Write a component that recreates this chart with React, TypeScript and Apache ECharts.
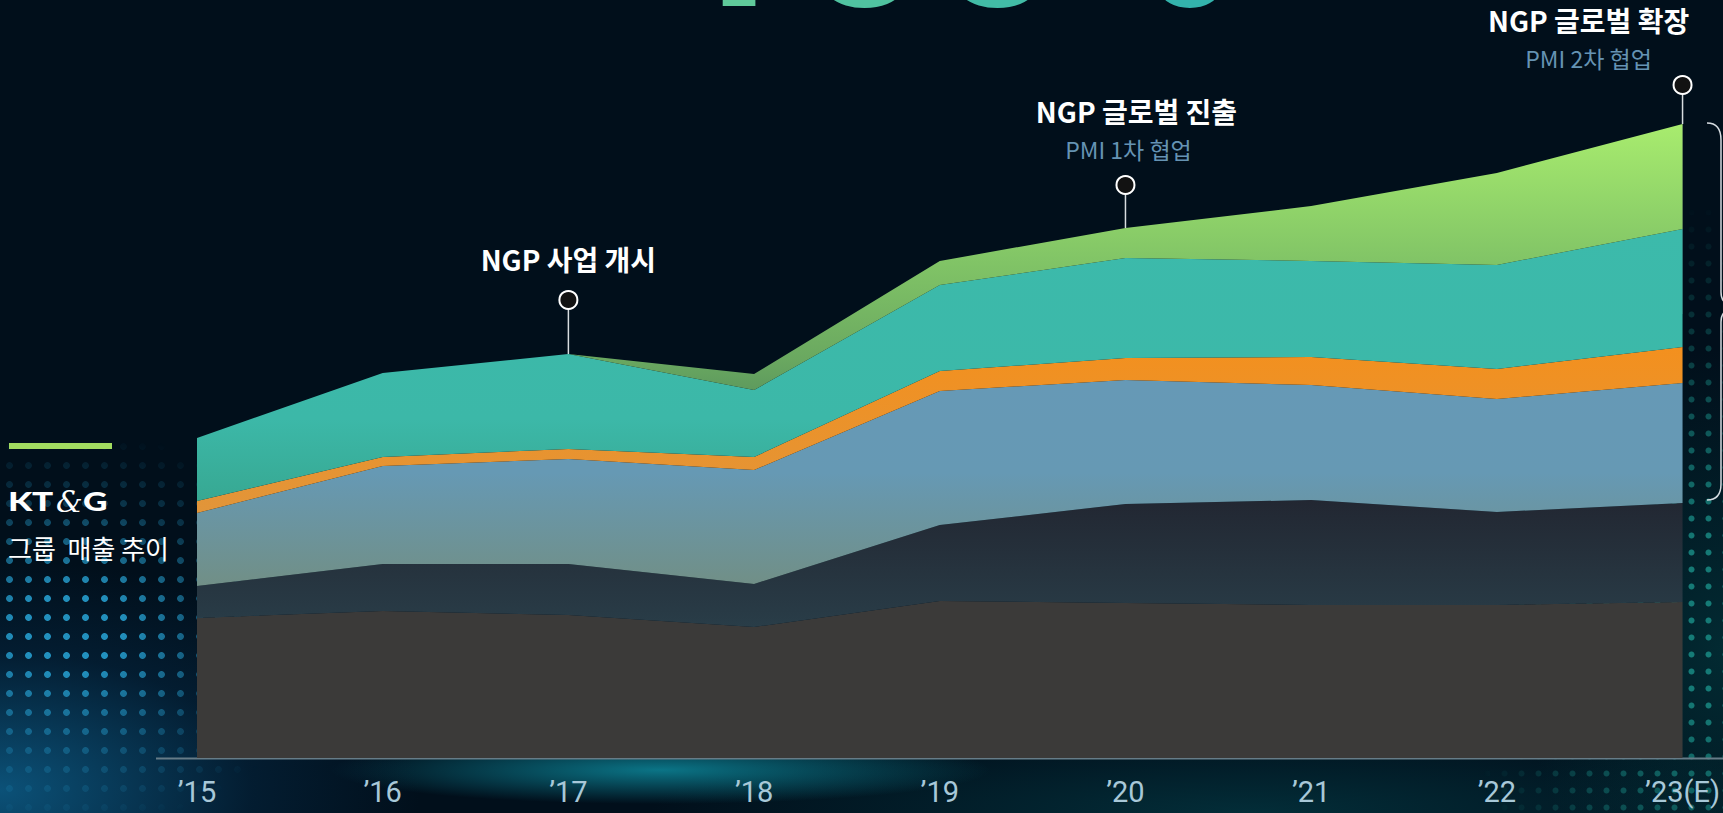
import React, { useEffect, useRef } from "react";
import * as echarts from "echarts";

const years = ["’15", "’16", "’17", "’18", "’19", "’20", "’21", "’22", "’23(E)"];
const baseTobacco = [14.0, 14.7, 14.3, 13.1, 15.7, 15.5, 15.3, 15.3, 15.6];
const navyLayer = [3.2, 4.7, 5.1, 4.3, 7.6, 9.9, 10.5, 9.3, 9.9];
const steelLayer = [7.3, 9.8, 10.5, 11.4, 13.4, 12.4, 11.5, 11.3, 12.0];
const orangeLayer = [1.2, 0.9, 1.0, 1.3, 2.0, 2.2, 2.8, 3.0, 3.6];
const tealLayer = [6.3, 8.4, 9.5, 6.7, 8.6, 10.0, 9.6, 10.4, 11.8];
const greenLayer = [0, 0, 0, 1.6, 2.4, 3.0, 5.5, 9.2, 10.5];

const headline = ["1", "0", "0", "%"];
const headlineColors = ["#5fc99a", "#50c3a0", "#42bca6", "#33b3ac"];

const annotations = [
  { idx: 2, title: "NGP 사업 개시", sub: "", circleUp: 54, titleUp: 41, subUp: 0, dx: 0, subDx: 0 },
  { idx: 5, title: "NGP 글로벌 진출", sub: "PMI 1차 협업", circleUp: 43, titleUp: 74, subUp: 36, dx: 11, subDx: 3 },
  { idx: 8, title: "NGP 글로벌 확장", sub: "PMI 2차 협업", circleUp: 39, titleUp: 65, subUp: 27, dx: -94, subDx: -94 },
];

const KR = '"Noto Sans CJK KR", "Noto Sans", sans-serif';

function grad(stops: [number, string][]) {
  return new echarts.graphic.LinearGradient(
    0, 0, 0, 1,
    stops.map(([offset, color]) => ({ offset, color }))
  );
}

export default function App() {
  const ref = useRef<HTMLDivElement>(null);
  useEffect(() => {
    if (!ref.current) return;
    const chart = echarts.init(ref.current, undefined, { renderer: "svg" });
    const layers = [
      { name: "base", data: baseTobacco, color: grad([[0, "#3b3a39"], [1, "#3b3a39"]]) },
      { name: "navy", data: navyLayer, color: grad([[0, "#222732"], [1, "#293d48"]]) },
      { name: "steel", data: steelLayer, color: grad([[0, "#6699b6"], [0.45, "#6699b4"], [1, "#718f86"]]) },
      { name: "orange", data: orangeLayer, color: grad([[0, "#f3901e"], [1, "#e1953a"]]) },
      { name: "teal", data: tealLayer, color: grad([[0, "#3cbaab"], [0.7, "#3cb8a8"], [1, "#37a892"]]) },
      { name: "green", data: greenLayer, color: grad([[0, "#a8ec6e"], [0.45, "#80c366"], [0.75, "#6aa860"], [1, "#4b855a"]]) },
    ];
    const option: any = {
      animation: false,
      backgroundColor: "transparent",
      grid: { left: 197, right: 33, top: 58, bottom: 55, containLabel: false },
      xAxis: {
        type: "category",
        data: years,
        boundaryGap: false,
        axisLine: { show: false },
        axisTick: { show: false },
        splitLine: { show: false },
        axisLabel: {
          color: "#a8c8d8",
          fontSize: 29,
          fontFamily: "Roboto, sans-serif",
          margin: 19,
          interval: 0,
        },
      },
      yAxis: {
        type: "value",
        min: 0,
        max: 70,
        show: false,
        splitLine: { show: false },
      },
      series: layers.map((l) => ({
        name: l.name,
        type: "line",
        stack: "total",
        data: l.data,
        symbol: "none",
        lineStyle: { width: 0 },
        areaStyle: { color: l.color, opacity: 1 },
        emphasis: { disabled: true },
        silent: true,
      })),
    };
    chart.setOption(option);

    const totals = years.map((_, i) => layers.reduce((s, l) => s + l.data[i], 0));
    const graphics: any[] = [];

    // big partial headline at top (only its lower edge shows)
    const rich: any = {};
    headline.forEach((_, i) => {
      rich["c" + i] = {
        fill: headlineColors[i],
        fontSize: 232,
        fontWeight: "bold",
        fontFamily: "Roboto, sans-serif",
      };
    });
    graphics.push({
      type: "text",
      x: 950,
      y: 43,
      style: {
        text: headline.map((c, i) => `{c${i}|${c}}`).join(""),
        rich,
        fontSize: 232,
        fontWeight: "bold",
        fontFamily: "Roboto, sans-serif",
        align: "center",
        verticalAlign: "bottom",
      },
    });

    // x axis line (extends beyond grid)
    graphics.push({
      type: "line",
      shape: { x1: 156, y1: 758.5, x2: 1723, y2: 758.5 },
      style: { stroke: "#667c88", lineWidth: 2 },
    });

    // left block
    graphics.push({ type: "rect", shape: { x: 9, y: 443, width: 103, height: 6 }, style: { fill: "#a2dc60" } });
    const logo = [
      { t: "K", x: 8, f: "Lato", w: 900, s: 27, sx: 1.3, it: "normal" },
      { t: "T", x: 32, f: "Lato", w: 900, s: 27, sx: 1.3, it: "normal" },
      { t: "&", x: 56, f: '"DejaVu Serif", serif', w: "normal", s: 30, sx: 1.0, it: "italic" },
      { t: "G", x: 83, f: "Lato", w: 900, s: 27, sx: 1.25, it: "normal" },
    ];
    logo.forEach((g) => {
      graphics.push({
        type: "text",
        x: g.x,
        y: 501,
        scaleX: g.sx,
        style: {
          text: g.t,
          fill: "#ffffff",
          fontSize: g.s,
          fontWeight: g.w,
          fontStyle: g.it,
          fontFamily: g.f,
          align: "left",
          verticalAlign: "middle",
        },
      });
    });
    graphics.push({
      type: "text",
      x: 8,
      y: 547,
      style: { text: "그룹  매출 추이", fill: "#ffffff", fontSize: 26, lineHeight: 28, fontFamily: KR, align: "left", verticalAlign: "middle" },
    });

    // annotations
    annotations.forEach((a) => {
      const [px, py] = chart.convertToPixel({ xAxisIndex: 0, yAxisIndex: 0 }, [a.idx, totals[a.idx]]) as number[];
      const cy = py - a.circleUp;
      graphics.push({
        type: "line",
        shape: { x1: px, y1: cy + 9, x2: px, y2: py },
        style: { stroke: "#d8dde0", lineWidth: 1.5 },
      });
      graphics.push({
        type: "line",
        shape: { x1: px, y1: py, x2: px, y2: py + 190 },
        style: { stroke: "rgba(255,255,255,0.12)", lineWidth: 1 },
      });
      graphics.push({
        type: "circle",
        shape: { cx: px, cy, r: 9 },
        style: { fill: "#121212", stroke: "#ffffff", lineWidth: 2 },
      });
      graphics.push({
        type: "text",
        x: px + a.dx,
        y: cy - a.titleUp,
        style: { text: a.title, fill: "#ffffff", fontSize: 28, lineHeight: 28, fontWeight: "bold", fontFamily: KR, align: "center", verticalAlign: "middle" },
      });
      if (a.sub) {
        graphics.push({
          type: "text",
          x: px + a.subDx,
          y: cy - a.subUp,
          style: { text: a.sub, fill: "#6593b3", fontSize: 23, lineHeight: 24, fontFamily: KR, align: "center", verticalAlign: "middle" },
        });
      }
    });

    // right braces
    const braceStyle = { stroke: "#d5dbe0", lineWidth: 1.5, fill: "none" };
    graphics.push(
      { type: "bezierCurve", shape: { x1: 1707, y1: 123, cpx1: 1721, cpy1: 123, x2: 1721, y2: 140 }, style: braceStyle },
      { type: "line", shape: { x1: 1721, y1: 140, x2: 1721, y2: 292 }, style: braceStyle },
      { type: "bezierCurve", shape: { x1: 1721, y1: 292, cpx1: 1721, cpy1: 304, x2: 1732, y2: 305 }, style: braceStyle },
      { type: "bezierCurve", shape: { x1: 1732, y1: 309, cpx1: 1721, cpy1: 310, x2: 1721, y2: 322 }, style: braceStyle },
      { type: "line", shape: { x1: 1721, y1: 322, x2: 1721, y2: 484 }, style: braceStyle },
      { type: "bezierCurve", shape: { x1: 1721, y1: 484, cpx1: 1721, cpy1: 500, x2: 1707, y2: 500 }, style: braceStyle }
    );

    chart.setOption({ graphic: graphics });
    return () => chart.dispose();
  }, []);

  const dots = (color: string, r: number) =>
    `radial-gradient(circle, ${color} 0 ${r}px, transparent ${r + 0.8}px)`;

  return (
    <div style={{ position: "fixed", left: 0, top: 0, width: 1723, height: 813, overflow: "hidden", background: "#010f1b" }}>
      <div
        style={{
          position: "absolute",
          inset: 0,
          background:
            "radial-gradient(ellipse 420px 230px at 0px 790px, rgba(12,85,125,0.95), rgba(6,45,75,0.45) 60%, transparent 100%)," +
            "radial-gradient(ellipse 330px 34px at 660px 770px, rgba(14,150,170,0.75), transparent 100%)," +
            "radial-gradient(ellipse 600px 90px at 1250px 813px, rgba(4,70,80,0.55), transparent 100%)," +
            "radial-gradient(ellipse 200px 300px at 1723px 650px, rgba(3,60,65,0.6), transparent 100%)",
        }}
      />
      <div
        style={{
          position: "absolute",
          inset: 0,
          backgroundImage: dots("rgba(40,165,215,0.85)", 3),
          backgroundSize: "19px 19px",
          WebkitMaskImage: "radial-gradient(ellipse 260px 200px at 70px 630px, black 20%, rgba(0,0,0,0.3) 65%, transparent 100%)",
          maskImage: "radial-gradient(ellipse 260px 200px at 70px 630px, black 20%, rgba(0,0,0,0.3) 65%, transparent 100%)",
        }}
      />
      <div
        style={{
          position: "absolute",
          inset: 0,
          backgroundImage: dots("rgba(30,160,150,0.7)", 2.6),
          backgroundSize: "17px 17px",
          WebkitMaskImage: "radial-gradient(ellipse 260px 420px at 1723px 620px, black 20%, transparent 100%)",
          maskImage: "radial-gradient(ellipse 260px 420px at 1723px 620px, black 20%, transparent 100%)",
        }}
      />
      <div ref={ref} style={{ position: "absolute", left: 0, top: 0, width: 1723, height: 813 }} />
    </div>
  );
}
